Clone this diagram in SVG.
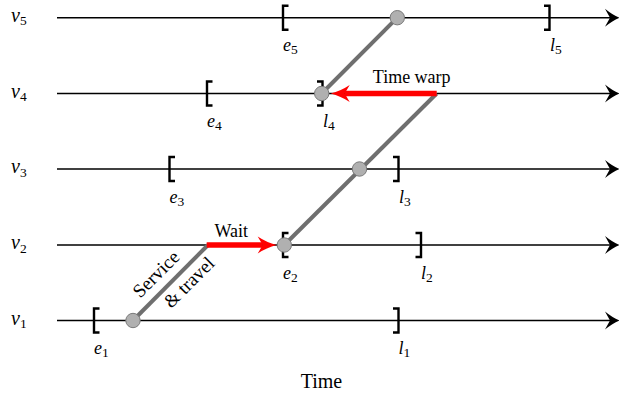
<svg xmlns="http://www.w3.org/2000/svg" width="619" height="397" viewBox="0 0 619 397">
<style>
.ax{stroke:#000;stroke-width:1.6;fill:none}
.br{stroke:#000;stroke-width:2.4;fill:none}
.gp{stroke:#6f6f6f;stroke-width:4;fill:none}
.nd{fill:#b0b0b0;stroke:#7a7a7a;stroke-width:1}
.red{stroke:#ff0000;stroke-width:5.5;fill:none}
.t{font-family:"Liberation Serif","Times New Roman",serif;fill:#000}
.v{font-style:italic;font-size:20px}
.el{font-style:italic;font-size:18px}
.sb{font-style:normal;font-size:13.5px}
.lb{font-size:18px}
</style>
<defs>
<marker id="axArrow" markerUnits="userSpaceOnUse" viewBox="-1 -10 16 20" markerWidth="16" markerHeight="20" refX="5" refY="0" orient="auto">
<path d="M0,-9 Q8,-2.5 14.5,0 Q8,2.5 0,9 L5,0 Z" fill="#000"/>
</marker>
<marker id="redArrow" markerUnits="userSpaceOnUse" viewBox="-1 -10 21 20" markerWidth="21" markerHeight="20" refX="5" refY="0" orient="auto">
<path d="M0,-8.5 Q9,-2.5 19,0 Q9,2.5 0,8.5 L5,0 Z" fill="#ff0000"/>
</marker>
</defs>

<g id="axes">
<line class="ax" x1="57" y1="17.7" x2="610" y2="17.7" marker-end="url(#axArrow)"/>
<line class="ax" x1="57" y1="93.5" x2="610" y2="93.5" marker-end="url(#axArrow)"/>
<line class="ax" x1="57" y1="169" x2="610" y2="169" marker-end="url(#axArrow)"/>
<line class="ax" x1="57" y1="245" x2="610" y2="245" marker-end="url(#axArrow)"/>
<line class="ax" x1="57" y1="320.5" x2="610" y2="320.5" marker-end="url(#axArrow)"/>
</g>

<g id="v5">
<text class="t v" x="11" y="21.7">v<tspan class="sb" dy="3.5">5</tspan></text>
<path class="br" d="M288.5,5.7 H283 V29.7 H288.5"/>
<text class="t el" x="283" y="51">e<tspan class="sb" dy="3">5</tspan></text>
<path class="br" d="M544,5.7 H549.5 V29.7 H544"/>
<text class="t el" x="550" y="51">l<tspan class="sb" dy="3">5</tspan></text>
</g>

<g id="v4">
<text class="t v" x="11" y="97.5">v<tspan class="sb" dy="3.5">4</tspan></text>
<path class="br" d="M212.5,81.5 H207 V105.5 H212.5"/>
<text class="t el" x="207" y="127">e<tspan class="sb" dy="3">4</tspan></text>
<path class="br" d="M317,81.5 H322.5 V105.5 H317"/>
<text class="t el" x="323" y="127">l<tspan class="sb" dy="3">4</tspan></text>
</g>

<g id="v3">
<text class="t v" x="11" y="173">v<tspan class="sb" dy="3.5">3</tspan></text>
<path class="br" d="M175,157 H169.5 V181 H175"/>
<text class="t el" x="169.5" y="202.5">e<tspan class="sb" dy="3">3</tspan></text>
<path class="br" d="M393,157 H398.5 V181 H393"/>
<text class="t el" x="399" y="202.5">l<tspan class="sb" dy="3">3</tspan></text>
</g>

<g id="v2">
<text class="t v" x="11" y="249">v<tspan class="sb" dy="3.5">2</tspan></text>
<path class="br" d="M288.5,233 H283 V257 H288.5"/>
<text class="t el" x="283" y="278.5">e<tspan class="sb" dy="3">2</tspan></text>
<path class="br" d="M415.5,233 H421 V257 H415.5"/>
<text class="t el" x="421" y="278.5">l<tspan class="sb" dy="3">2</tspan></text>
</g>

<g id="v1">
<text class="t v" x="11" y="324.5">v<tspan class="sb" dy="3.5">1</tspan></text>
<path class="br" d="M99.5,308.5 H94 V332.5 H99.5"/>
<text class="t el" x="94" y="354">e<tspan class="sb" dy="3">1</tspan></text>
<path class="br" d="M393,308.5 H398.5 V332.5 H393"/>
<text class="t el" x="398.5" y="354">l<tspan class="sb" dy="3">1</tspan></text>
</g>

<g id="connectors">
<line class="gp" x1="133" y1="320.5" x2="208" y2="245"/>
<line class="gp" x1="436.7" y1="93.5" x2="284.3" y2="245"/>
<line class="gp" x1="321.7" y1="93.5" x2="397.3" y2="17.7"/>
<line class="red" x1="206.7" y1="245" x2="262.7" y2="245" marker-end="url(#redArrow)"/>
<line class="red" x1="436.7" y1="93.5" x2="344.7" y2="93.5" marker-end="url(#redArrow)"/>
</g>

<g id="stops">
<circle class="nd" cx="133" cy="320.5" r="7.2"/>
<circle class="nd" cx="284.3" cy="245" r="7.2"/>
<circle class="nd" cx="359.5" cy="169" r="7.2"/>
<circle class="nd" cx="321.7" cy="93.5" r="7.2"/>
<circle class="nd" cx="397.3" cy="17.7" r="7.2"/>
</g>

<g id="labels">
<text class="t lb" x="231.3" y="236.5" text-anchor="middle">Wait</text>
<text class="t lb" x="411.7" y="83" text-anchor="middle">Time warp</text>
<text class="t" font-size="19" transform="translate(160.5,278.5) rotate(-45)" text-anchor="middle">Service</text>
<text class="t" font-size="19" transform="translate(193.5,286.8) rotate(-45)" text-anchor="middle">&amp; travel</text>
<text class="t" font-size="20" x="321.5" y="388" text-anchor="middle">Time</text>
</g>
</svg>
